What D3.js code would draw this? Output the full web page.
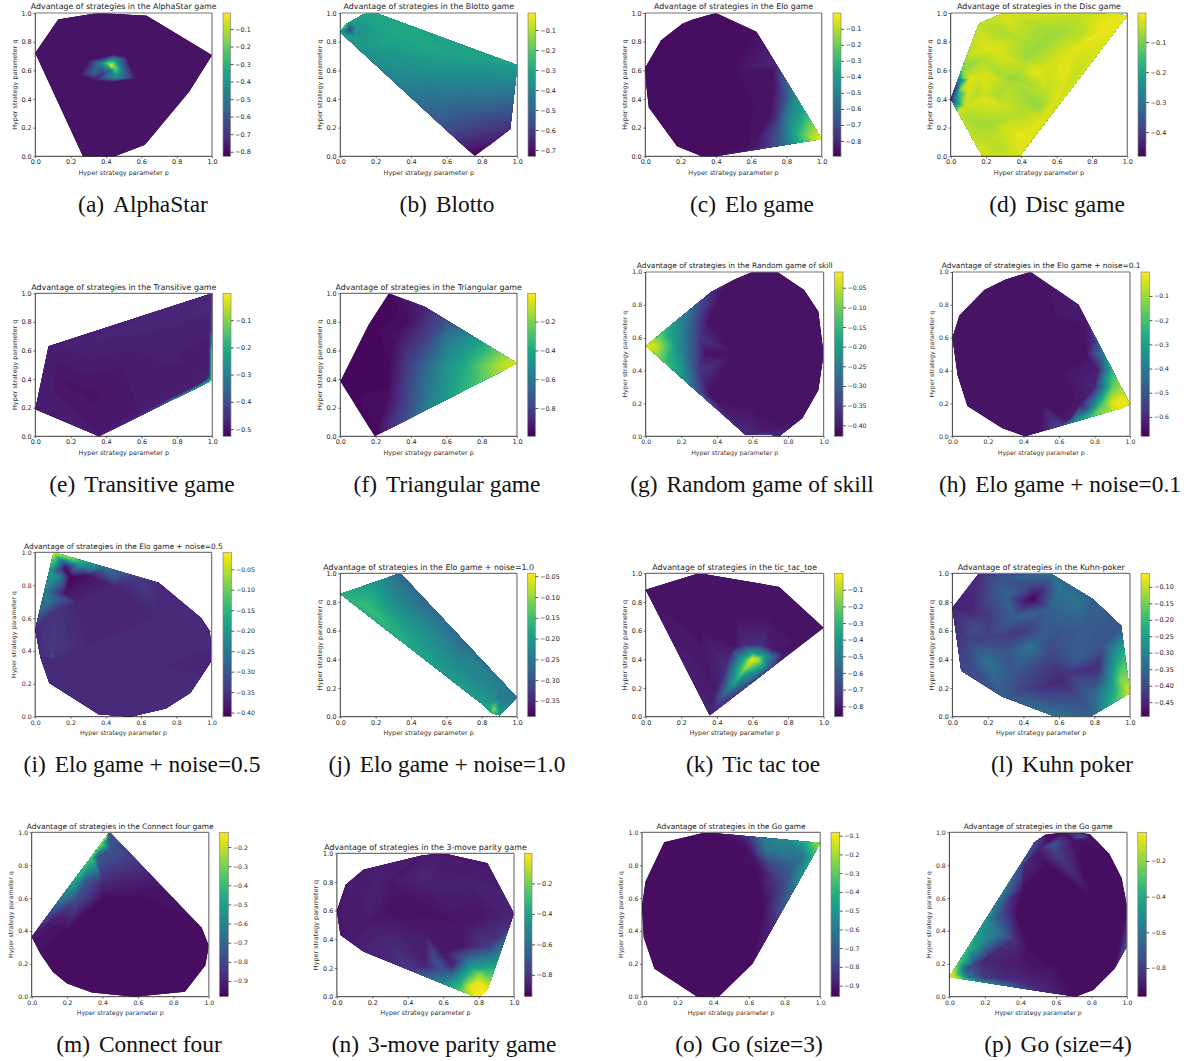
<!DOCTYPE html>
<html><head><meta charset="utf-8">
<style>
html,body{margin:0;padding:0;background:#fff;}
svg{display:block;}
.tick text{font-family:"DejaVu Sans";fill:#262626;}
.ttl{font-family:"DejaVu Sans";fill:#222;text-anchor:middle;}
.lab{font-family:"DejaVu Sans";fill:#333;text-anchor:middle;}
.cap{font-family:"Liberation Serif";font-size:23.4px;fill:#111;text-anchor:middle;}
</style>
<script src="https://cdn.jsdelivr.net/npm/d3@7"></script>
</head><body>
<svg id="fig" width="1184" height="1061" viewBox="0 0 1184 1061"></svg>
<script>
// ---------- text ----------
const titles = ["AlphaStar game","Blotto game","Elo game","Disc game","Transitive game","Triangular game","Random game of skill","Elo game + noise=0.1","Elo game + noise=0.5","Elo game + noise=1.0","tic_tac_toe","Kuhn-poker","Connect four game","3-move parity game","Go game","Go game"];
const captionLetters = ["(a)","(b)","(c)","(d)","(e)","(f)","(g)","(h)","(i)","(j)","(k)","(l)","(m)","(n)","(o)","(p)"];
const captionNames = ["AlphaStar","Blotto","Elo game","Disc game","Transitive game","Triangular game","Random game of skill","Elo game + noise=0.1","Elo game + noise=0.5","Elo game + noise=1.0","Tic tac toe","Kuhn poker","Connect four","3-move parity game","Go (size=3)","Go (size=4)"];
const axisTicks = [0,0.2,0.4,0.6,0.8,1];
// ---------- colourbar ranges and ticks ----------
const valueRanges = [[-0.826,-0.009],[-0.7315,-0.015],[-0.896,-0.001],[-0.481,-0.003],[-0.527,-0.001],[-0.997,-0.003],[-0.428,-0.010],[-0.68,-0.001],[-0.41,-0.0085],[-0.388,-0.043],[-0.863,-0.001],[-0.494,-0.059],[-0.982,-0.123],[-0.943,-0.003],[-0.959,-0.082],[-0.961,-0.039]];
const tick1 = [-0.1,-0.2,-0.3,-0.4,-0.5,-0.6,-0.7,-0.8];
const colorTicks = [tick1,tick1.slice(0,7),tick1,tick1.slice(0,4),tick1.slice(0,5),[-0.2,-0.4,-0.6,-0.8],
 [-0.05,-0.10,-0.15,-0.20,-0.25,-0.30,-0.35,-0.40],tick1.slice(0,6),[-0.05,-0.10,-0.15,-0.20,-0.25,-0.30,-0.35,-0.40],[-0.05,-0.10,-0.15,-0.20,-0.25,-0.30,-0.35],
 tick1,[-0.10,-0.15,-0.20,-0.25,-0.30,-0.35,-0.40,-0.45],[-0.2,-0.3,-0.4,-0.5,-0.6,-0.7,-0.8,-0.9],[-0.2,-0.4,-0.6,-0.8],[-0.1,-0.2,-0.3,-0.4,-0.5,-0.6,-0.7,-0.8,-0.9],[-0.2,-0.4,-0.6,-0.8]];
const tickDigits = [1,1,1,1,1,1,2,1,2,2,1,2,1,1,1,1];
// ---------- strategy hulls: [p, q, advantage] ----------
const hullA=[[0,.72,-.79],[.13,.955,-.79],[.33,.995,-.79],[.37,1,-.79],[.5,.99,-.79],[.63,.98,-.79],[1,.705,-.785],[.87,.45,-.785],[.62,.08,-.785],[.45,0,-.79],[.27,0,-.79]];
const innerA=[[.43,.63,-.02],[.41,.65,-.2],[.45,.62,-.15],[.36,.65,-.5],[.45,.67,-.36],[.5,.6,-.55],[.33,.58,-.58],[.4,.55,-.55],[.46,.55,-.42],[.39,.58,-.68],[.42,.6,-.55],[.25,.57,-.79],[.33,.53,-.79],[.43,.52,-.79],[.57,.54,-.79],[.52,.69,-.79],[.44,.71,-.79],[.3,.67,-.79],[.2,.4,-.79],[.2,.8,-.79],[.6,.4,-.79],[.7,.7,-.785],[.45,.85,-.79],[.45,.3,-.785]];
const hullB=[[0,.865,-.33],[.03,.92,-.2],[.13,.99,-.3],[.17,1,-.31],[.2,1,-.31],[1,.635,-.33],[.96,.19,-.63],[.76,0,-.73]];
const innerB=[[.05,.88,-.6],[.09,.9,-.36],[.05,.94,-.34],[.02,.87,-.42],[.08,.83,-.34],[.3,.85,-.31],[.5,.75,-.31],[.8,.69,-.32],[.4,.6,-.38],[.7,.55,-.39],[.35,.5,-.42],[.6,.35,-.49],[.55,.2,-.55],[.7,.3,-.53],[.85,.4,-.47],[.8,.15,-.63],[.9,.25,-.59],[.2,.75,-.34]];
const hullC=[[0,.62,-.86],[.09,.81,-.86],[.21,.925,-.86],[.27,.955,-.86],[.4,1,-.86],[.63,.87,-.86],[1,.12,-.01],[.4,0,-.86],[.32,0,-.86],[.18,.07,-.86],[.02,.34,-.86],[.005,.5,-.86]];
const innerC=[[.73,.5,-.85],[.71,.3,-.85],[.64,.15,-.85],[.58,.08,-.86],[.5,.05,-.86],[.72,.6,-.85],[.3,.5,-.86],[.5,.6,-.86],[.2,.3,-.86],[.4,.8,-.86],[.6,.35,-.86],[.9,.32,-.36],[.8,.55,-.62],[.75,.65,-.8],[.9,.1,-.28],[.8,.08,-.55],[.7,.065,-.75],[.62,.055,-.84],[.85,.4,-.45],[.8,.3,-.54],[.75,.3,-.76],[.75,.15,-.67],[.85,.15,-.36],[.9,.15,-.22],[.95,.13,-.09],[.8,.42,-.66]];
const hullD=[[0,.4,-.47],[.16,.925,-.05],[.28,.99,-.03],[.3,1,-.03],[.78,1,-.04],[1,.985,-.015],[.39,0,-.03],[.18,0,-.03]];
const innerD=[[.02,.41,-.3],[.04,.44,-.2],[.06,.47,-.07],[.065,.55,-.11],[.07,.62,-.09],[.03,.47,-.41],[.05,.53,-.3],[.03,.3,-.035],[.1,.7,-.05],[.1,.25,-.07],[.08,.35,-.04],[.1,.45,-.03],[.11,.54,-.025],[.15,.43,-.06],[.18,.42,-.04],[.21,.4,-.025],[.24,.22,-.07],[.22,.1,-.05],[.27,.05,-.06],[.3,.2,-.04],[.27,.42,-.065],[.3,.35,-.04],[.33,.52,-.065],[.36,.55,-.08],[.3,.55,-.07],[.25,.55,-.04],[.18,.57,-.03],[.18,.68,-.06],[.2,.75,-.025],[.25,.75,-.025],[.28,.88,-.065],[.32,.95,-.03],[.4,.8,-.06],[.43,.7,-.075],[.42,.62,-.05],[.48,.59,-.02],[.55,.63,-.035],[.6,.85,-.075],[.5,.9,-.065],[.75,.85,-.05],[.7,.75,-.025],[.85,.87,-.018],[.55,.45,-.05],[.5,.35,-.08],[.52,.25,-.025],[.45,.18,-.025],[.38,.15,-.02],[.42,.32,-.06],[.35,.28,-.055],[.7,.55,-.05],[.6,.4,-.025],[.65,.55,-.025]];
const hullE=[[0,.19,-.485],[.075,.63,-.485],[1,1,-.47],[1,.385,-.005],[.98,.38,-.2],[.36,0,-.49]];
const innerE=[[1,.5,-.01],[1,.6,-.05],[1,.65,-.2],[1,.75,-.4],[1,.9,-.46],[.985,.42,-.47],[.985,.47,-.485],[.985,.52,-.485],[.985,.57,-.485],[.985,.62,-.485],[.985,.67,-.485],[.985,.72,-.48],[.985,.78,-.48],[.985,.85,-.475],[.93,.37,-.49],[.8,.27,-.33],[.7,.208,-.4],[.6,.147,-.45],[.5,.086,-.47],[.8,.29,-.49],[.7,.23,-.49],[.6,.17,-.49],[.5,.11,-.49],[.5,.5,-.49],[.3,.5,-.485],[.2,.35,-.5],[.3,.3,-.5],[.1,.3,-.49],[.7,.6,-.48],[.5,.72,-.475],[.8,.8,-.475],[.35,.68,-.475],[.9,.6,-.485],[.9,.45,-.485]];
const hullF=[[0,.385,-.98],[.16,.78,-.98],[.275,1,-.98],[.48,.905,-.9],[1,.51,-.05],[.195,0,-.98]];
const innerF=[[.32,.7,-.95],[.38,.8,-.96],[.28,.5,-.97],[.27,.35,-.97],[.25,.2,-.96],[.22,.1,-.96],[.4,.5,-.8],[.5,.5,-.65],[.6,.5,-.5],[.7,.5,-.4],[.8,.5,-.25],[.9,.5,-.12],[.5,.3,-.6],[.4,.2,-.75],[.6,.257,-.45],[.7,.32,-.36],[.8,.38,-.26],[.9,.45,-.13],[.5,.19,-.55],[.35,.1,-.78],[.5,.7,-.8],[.6,.7,-.62],[.7,.65,-.5],[.7,.74,-.6],[.6,.815,-.76],[.8,.66,-.42],[.9,.59,-.22],[.8,.58,-.34]];
const hullG=[[0,.55,-.03],[.37,.88,-.38],[.5,.955,-.41],[.6,1,-.41],[.74,1,-.41],[.89,.89,-.41],[.97,.76,-.41],[1,.5,-.41],[.97,.28,-.41],[.88,.11,-.41],[.75,0,-.38],[.7,.01,-.33],[.56,.01,-.38]];
const innerG=[[.05,.55,-.03],[.1,.55,-.1],[.1,.63,-.15],[.1,.46,-.13],[.2,.55,-.24],[.2,.72,-.24],[.2,.37,-.2],[.3,.8,-.33],[.3,.6,-.36],[.3,.4,-.36],[.3,.27,-.33],[.67,.03,-.4],[.34,.5,-.41],[.35,.7,-.405],[.36,.25,-.41],[.5,.5,-.41],[.7,.7,-.41],[.8,.3,-.41],[.6,.2,-.41],[.55,.8,-.41],[.42,.85,-.41]];
const hullH=[[0,.6,-.65],[.04,.735,-.65],[.18,.89,-.65],[.3,.955,-.65],[.44,1,-.65],[.71,.8,-.63],[1,.195,-.03],[.95,.17,-.03],[.41,0,-.65],[.28,.05,-.65],[.085,.185,-.65],[.03,.37,-.65]];
const innerH=[[.9,.2,-.03],[.95,.23,-.02],[.85,.2,-.17],[.8,.2,-.37],[.75,.17,-.54],[.7,.1,-.34],[.8,.13,-.17],[.9,.15,-.07],[.6,.06,-.54],[.5,.03,-.64],[.9,.3,-.17],[.85,.35,-.39],[.85,.5,-.41],[.9,.4,-.24],[.95,.3,-.1],[.8,.3,-.61],[.82,.4,-.62],[.8,.6,-.58],[.75,.7,-.64],[.72,.2,-.64],[.65,.1,-.64],[.75,.5,-.65],[.3,.5,-.65],[.5,.7,-.65],[.6,.4,-.65],[.5,.2,-.65],[.2,.3,-.65],[.3,.8,-.65]];
const hullI=[[0,.53,-.36],[.105,1,-.03],[.7,.815,-.36],[.94,.6,-.36],[.99,.52,-.36],[1,.34,-.37],[.88,.145,-.36],[.74,.05,-.36],[.54,0,-.36],[.36,.015,-.36],[.08,.205,-.36],[.03,.36,-.36]];
const innerI=[[.2,.965,-.08],[.3,.935,-.2],[.4,.905,-.27],[.5,.875,-.3],[.6,.845,-.34],[.08,.88,-.2],[.05,.75,-.24],[.02,.62,-.3],[.12,.95,-.15],[.13,.85,-.22],[.14,.72,-.3],[.1,.85,-.2],[.07,.7,-.25],[.12,.7,-.3],[.145,.95,-.25],[.17,.925,-.35],[.25,.925,-.2],[.3,.895,-.25],[.45,.82,-.33],[.17,.9,-.405],[.2,.85,-.405],[.17,.75,-.39],[.3,.86,-.39],[.25,.7,-.37],[.45,.79,-.37],[.12,.65,-.35],[.1,.37,-.3],[.09,.41,-.345],[.07,.36,-.36],[.12,.35,-.36],[.5,.5,-.365],[.3,.4,-.365],[.7,.6,-.365],[.7,.3,-.365],[.5,.2,-.365],[.2,.2,-.36]];
const hullJ=[[0,.855,-.17],[.34,1,-.27],[1,.135,-.25],[.9,.01,-.2],[.85,.03,-.17],[.8,.09,-.2]];
const innerJ=[[.15,.76,-.15],[.4,.6,-.2],[.65,.3,-.21],[.6,.55,-.24],[.75,.4,-.24],[.9,.2,-.24],[.85,.1,-.2],[.87,.05,-.1],[.9,.13,-.25],[.2,.94,-.21],[.7,.528,-.27],[.5,.79,-.27],[.4,.47,-.18],[.6,.28,-.2],[.3,.8,-.22]];
const hullK=[[0,.885,-.82],[.3,1,-.82],[.75,.905,-.82],[1,.62,-.82],[.36,.01,-.78]];
const innerK=[[.6,.4,-.01],[.63,.4,-.08],[.57,.35,-.1],[.52,.27,-.3],[.45,.17,-.55],[.4,.08,-.72],[.55,.4,-.35],[.6,.45,-.4],[.66,.42,-.35],[.6,.33,-.3],[.55,.28,-.45],[.72,.42,-.6],[.48,.47,-.8],[.5,.49,-.82],[.55,.5,-.76],[.65,.5,-.75],[.7,.48,-.8],[.78,.44,-.82],[.45,.35,-.75],[.42,.25,-.78],[.38,.15,-.8],[.65,.33,-.45],[.5,.16,-.68],[.7,.34,-.65],[.75,.38,-.78],[.3,.6,-.82],[.5,.7,-.82],[.7,.7,-.82],[.2,.7,-.82],[.4,.55,-.82],[.85,.55,-.82],[.3,.85,-.82]];
const hullL=[[0,.76,-.45],[.15,1,-.44],[.55,1,-.34],[.79,.82,-.36],[.95,.635,-.38],[1,.165,-.08],[.79,.01,-.36],[.56,.01,-.33],[.28,.14,-.37],[.05,.32,-.4]];
const innerL=[[.45,.82,-.49],[.38,.8,-.44],[.5,.88,-.44],[.45,.92,-.4],[.3,.85,-.36],[.35,.7,-.36],[.25,.95,-.38],[.55,.75,-.36],[.6,.9,-.33],[.7,.8,-.33],[.1,.75,-.45],[.2,.7,-.42],[.12,.6,-.39],[.05,.55,-.42],[.2,.55,-.41],[.2,.38,-.33],[.3,.45,-.38],[.1,.35,-.4],[.35,.3,-.38],[.45,.5,-.33],[.5,.55,-.37],[.4,.6,-.42],[.55,.4,-.41],[.6,.6,-.38],[.75,.6,-.37],[.7,.4,-.37],[.82,.35,-.44],[.85,.5,-.38],[.65,.3,-.43],[.6,.25,-.45],[.5,.2,-.43],[.4,.2,-.41],[.7,.15,-.4],[.6,.1,-.38],[.8,.15,-.35],[.9,.2,-.25],[.93,.35,-.22],[.95,.25,-.14],[.9,.45,-.3],[.9,.09,-.22],[.97,.45,-.22]];
const hullM=[[0,.365,-.93],[.44,1,-.75],[.96,.42,-.95],[1,.31,-.95],[.98,.19,-.95],[.865,.03,-.95],[.58,0,-.95],[.34,.025,-.95],[.2,.08,-.95],[.12,.15,-.95],[.05,.26,-.95]];
const innerM=[[.42,.97,-.2],[.39,.93,-.25],[.34,.85,-.35],[.24,.7,-.45],[.17,.6,-.62],[.1,.5,-.8],[.43,.96,-.7],[.37,.85,-.75],[.3,.7,-.75],[.255,.6,-.78],[.17,.5,-.9],[.1,.44,-.93],[.45,.9,-.78],[.5,.85,-.8],[.6,.82,-.85],[.4,.7,-.88],[.5,.7,-.9],[.7,.7,-.93],[.4,.6,-.95],[.6,.6,-.95],[.8,.5,-.95],[.2,.4,-.95],[.5,.3,-.95],[.8,.2,-.95],[.3,.1,-.95]];
const hullN=[[0,.6,-.88],[.05,.78,-.88],[.15,.885,-.88],[.48,.985,-.88],[.6,1,-.88],[.85,.93,-.88],[1,.58,-.85],[.85,.05,-.02],[.82,.015,-.01],[.78,0,-.01],[.15,.315,-.85],[.02,.43,-.88]];
const innerN=[[.7,.04,-.25],[.6,.09,-.5],[.5,.14,-.65],[.4,.19,-.78],[.3,.24,-.84],[.9,.22,-.4],[.95,.4,-.68],[.98,.5,-.82],[.8,.1,-.03],[.75,.07,-.05],[.85,.1,-.12],[.8,.15,-.15],[.75,.15,-.3],[.7,.12,-.4],[.75,.2,-.42],[.85,.2,-.38],[.65,.15,-.6],[.6,.18,-.7],[.55,.27,-.72],[.5,.22,-.85],[.65,.22,-.86],[.72,.28,-.7],[.8,.28,-.6],[.85,.35,-.78],[.9,.4,-.8],[.7,.35,-.89],[.6,.3,-.88],[.3,.8,-.88],[.5,.85,-.84],[.25,.85,-.86],[.3,.6,-.9],[.2,.65,-.86],[.45,.65,-.9],[.6,.75,-.86],[.75,.8,-.86],[.8,.55,-.89],[.3,.4,-.84],[.15,.5,-.87],[.5,.45,-.88],[.7,.5,-.89]];
const hullO=[[0,.55,-.93],[.02,.7,-.93],[.125,.94,-.93],[.36,1,-.93],[1,.935,-.2],[.62,.2,-.93],[.43,0,-.93],[.31,0,-.93],[.07,.17,-.93],[.01,.36,-.93]];
const innerO=[[.9,.945,-.45],[.8,.955,-.55],[.68,.965,-.6],[.6,.975,-.82],[.55,.97,-.9],[.5,.95,-.93],[.62,.85,-.92],[.65,.7,-.93],[.68,.55,-.93],[.63,.3,-.93],[.75,.9,-.6],[.7,.88,-.62],[.72,.8,-.78],[.68,.75,-.9],[.85,.8,-.68],[.9,.85,-.62],[.95,.85,-.45],[.9,.74,-.5],[.8,.55,-.72],[.75,.45,-.82],[.7,.355,-.88],[.8,.7,-.76],[.72,.6,-.88],[.3,.5,-.93],[.5,.3,-.93],[.2,.8,-.93],[.4,.7,-.93]];
const hullP=[[0,.12,-.05],[.48,.94,-.72],[.54,.985,-.93],[.65,1,-.93],[.79,.99,-.93],[.9,.87,-.93],[.97,.72,-.93],[1,.55,-.93],[.995,.3,-.72],[.93,.17,-.93],[.81,.04,-.93],[.71,0,-.93]];
const innerP=[[.05,.2,-.3],[.1,.28,-.38],[.2,.45,-.5],[.3,.62,-.62],[.4,.79,-.72],[.02,.13,-.1],[.1,.22,-.45],[.2,.33,-.55],[.3,.38,-.65],[.37,.34,-.85],[.25,.27,-.85],[.15,.2,-.8],[.1,.17,-.75],[.2,.22,-.87],[.3,.2,-.88],[.4,.2,-.9],[.3,.5,-.78],[.35,.6,-.85],[.42,.65,-.93],[.38,.5,-.93],[.45,.3,-.93],[.45,.15,-.9],[.47,.85,-.9],[.42,.8,-.85],[.45,.85,-.8],[.5,.9,-.88],[.1,.103,-.35],[.2,.086,-.55],[.3,.07,-.65],[.4,.05,-.75],[.5,.035,-.85],[.1,.12,-.6],[.2,.11,-.8],[.3,.11,-.85],[.4,.09,-.85],[.6,.5,-.93],[.8,.6,-.93],[.6,.2,-.93],[.8,.25,-.93],[.55,.8,-.93],[.58,.92,-.7],[.6,.89,-.78],[.56,.95,-.93],[.72,.97,-.75],[.75,.98,-.7],[.7,.95,-.92],[.78,.96,-.9],[.96,.32,-.93]];
const hulls=[hullA,hullB,hullC,hullD,hullE,hullF,hullG,hullH,hullI,hullJ,hullK,hullL,hullM,hullN,hullO,hullP];
const inners=[innerA,innerB,innerC,innerD,innerE,innerF,innerG,innerH,innerI,innerJ,innerK,innerL,innerM,innerN,innerO,innerP];
// ---------- layout ----------
const frames=[[35.3,212,13,156.3,223,230.5],[340.3,517.3,13,156.3,528,535.7],[645.3,821.7,13,156.3,833,841],[950.7,1127.3,13,156.3,1138,1146],
[35.3,212.3,293.3,436.3,223,231],[340.3,517,293.3,436.3,527.7,535.4],[645.7,823.6,272,436.3,834.5,843],[952.4,1130,272,436.3,1141,1149.4],
[35.2,211.6,552.3,716.7,223,231.4],[340.3,517,573.3,716.7,527.7,535.4],[645.7,823.6,573.3,716.7,834.5,843],[952.4,1130,573.3,716.7,1141,1149.4],
[31.7,208.8,832.3,996.7,219.5,228.3],[336.9,514,853.3,996.7,524.3,532],[642,820.2,832.3,996.7,831,839.7],[949.4,1127,832.3,996.7,1137.8,1146.4]];
const captionX=[143,447,752,1057,142,447,752,1060,142,447,753,1062,139,444,749,1058];
const captionY=[212,212,212,212,492,492,492,492,772,772,772,772,1052,1052,1052,1052];
const tallPanels=[6,7,8,12,14,15];
const GRID=120, LEVELS=72;
const svg=d3.select("#fig");
const defs=svg.append("defs");
const minusFmt=(digits)=>v=>"\u2212"+Math.abs(v).toFixed(digits);

function sampleField(pts){
  const del=d3.Delaunay.from(pts,d=>d[0],d=>d[1]);
  const vals=new Float64Array(GRID*GRID).fill(NaN);
  const t=del.triangles, g=GRID-1;
  for(let k=0;k<t.length;k+=3){
    const A=pts[t[k]],B=pts[t[k+1]],C=pts[t[k+2]];
    const d=(B[1]-C[1])*(A[0]-C[0])+(C[0]-B[0])*(A[1]-C[1]);
    if(Math.abs(d)<1e-12)continue;
    const i0=Math.max(0,Math.floor(Math.min(A[0],B[0],C[0])*g)),i1=Math.min(g,Math.ceil(Math.max(A[0],B[0],C[0])*g));
    const j0=Math.max(0,Math.floor(Math.min(A[1],B[1],C[1])*g)),j1=Math.min(g,Math.ceil(Math.max(A[1],B[1],C[1])*g));
    for(let j=j0;j<=j1;j++)for(let i=i0;i<=i1;i++){
      const x=i/g,y=j/g;
      const a=((B[1]-C[1])*(x-C[0])+(C[0]-B[0])*(y-C[1]))/d;
      const b=((C[1]-A[1])*(x-C[0])+(A[0]-C[0])*(y-C[1]))/d;
      const c=1-a-b;
      if(a>=-1e-9&&b>=-1e-9&&c>=-1e-9)vals[j*GRID+i]=a*A[2]+b*B[2]+c*C[2];
    }
  }
  for(let j=0;j<GRID;j++)for(let i=0;i<GRID;i++){
    if(Number.isNaN(vals[j*GRID+i]))vals[j*GRID+i]=pts[del.find(i/g,j/g)][2];
  }
  return Array.from(vals);
}

titles.forEach((name,idx)=>{
  const [x0,x1,y0,y1,c0,c1]=frames[idx];
  const tall=tallPanels.includes(idx);
  const titleSize=tall?7.45:7.9, labelSize=tall?6.2:6.45;
  const sx=d3.scaleLinear().domain([0,1]).range([x0,x1]);
  const sy=d3.scaleLinear().domain([0,1]).range([y1,y0]);
  const dom=valueRanges[idx];
  const color=d3.scaleSequential(d3.interpolateViridis).domain(dom);
  const g=svg.append("g");
  const hull=hulls[idx];
  const pts=hull.concat(inners[idx]);
  const outline=d3.line().x(d=>sx(d[0])).y(d=>sy(d[1])).curve(d3.curveLinearClosed);
  defs.append("clipPath").attr("id","hull"+idx).append("path").attr("d",outline(hull));
  const field=g.append("g").attr("clip-path",`url(#hull${idx})`);
  field.append("path").attr("d",outline(hull)).attr("fill",color(dom[0]));
  const ths=d3.range(1,LEVELS).map(i=>dom[0]+(dom[1]-dom[0])*i/LEVELS);
  const contours=d3.contours().size([GRID,GRID]).thresholds(ths).smooth(true)(sampleField(pts));
  const geo=d3.geoPath(d3.geoTransform({point(x,y){this.stream.point(sx((x-.5)/(GRID-1)),sy((y-.5)/(GRID-1)));}}));
  field.selectAll("path.lvl").data(contours).join("path").attr("class","lvl")
    .attr("d",geo).attr("fill",d=>color(d.value+(dom[1]-dom[0])/(2*LEVELS)));
  const ax=g.append("g").attr("transform",`translate(0,${y1})`).call(d3.axisBottom(sx).tickValues(axisTicks).tickFormat(d3.format(".1f")).tickSize(2).tickPadding(1.6));
  const ay=g.append("g").attr("transform",`translate(${x0},0)`).call(d3.axisLeft(sy).tickValues(axisTicks).tickFormat(d3.format(".1f")).tickSize(2).tickPadding(1.6));
  [ax,ay].forEach(s=>{s.select(".domain").remove();s.selectAll(".tick line").attr("stroke","#222").attr("stroke-width",.6);s.selectAll(".tick text").attr("fill",null).style("font-size",labelSize+"px");s.attr("font-family",null).attr("font-size",null);});
  [[x0,y0,x1,y0,"#777",1.2],[x1,y0,x1,y1,"#777",1.2],[x0,y0,x0,y1,"#222",.9],[x0,y1,x1,y1,"#222",.9]].forEach(l=>{
    g.append("line").attr("x1",l[0]).attr("y1",l[1]).attr("x2",l[2]).attr("y2",l[3]).attr("stroke",l[4]).attr("stroke-width",l[5]);
  });
  g.append("text").attr("class","ttl").style("font-size",titleSize+"px").attr("x",(x0+x1)/2).attr("y",y0-3.6).text("Advantage of strategies in the "+name);
  g.append("text").attr("class","lab").style("font-size",labelSize+"px").attr("x",(x0+x1)/2).attr("y",y1+18.6).text("Hyper strategy parameter p");
  g.append("text").attr("class","lab").style("font-size",labelSize+"px").attr("transform",`translate(${x0-18.8},${(y0+y1)/2}) rotate(-90)`).text("Hyper strategy parameter q");
  const cbar=d3.scaleLinear().domain(dom).range([y1,y0]);
  const grad=defs.append("linearGradient").attr("id","cb"+idx).attr("x1",0).attr("x2",0).attr("y1",1).attr("y2",0);
  d3.range(0,1.0001,0.05).forEach(t=>grad.append("stop").attr("offset",t).attr("stop-color",color(dom[0]+(dom[1]-dom[0])*t)));
  g.append("rect").attr("x",c0).attr("y",y0).attr("width",c1-c0).attr("height",y1-y0).attr("fill",`url(#cb${idx})`).attr("stroke","#888").attr("stroke-width",.7);
  const cb=g.append("g").attr("transform",`translate(${c1},0)`).call(d3.axisRight(cbar).tickValues(colorTicks[idx]).tickFormat(minusFmt(tickDigits[idx])).tickSize(3).tickPadding(1.6));
  cb.select(".domain").remove();cb.selectAll(".tick line").attr("stroke","#111").attr("stroke-width",.7);
  cb.selectAll(".tick text").attr("fill",null).style("font-size",labelSize+"px");cb.attr("font-family",null).attr("font-size",null);
  const cap=g.append("text").attr("class","cap").attr("x",captionX[idx]).attr("y",captionY[idx]);
  cap.append("tspan").text(captionLetters[idx]);
  cap.append("tspan").attr("dx",9).text(captionNames[idx]);
});
</script>
</body></html>
